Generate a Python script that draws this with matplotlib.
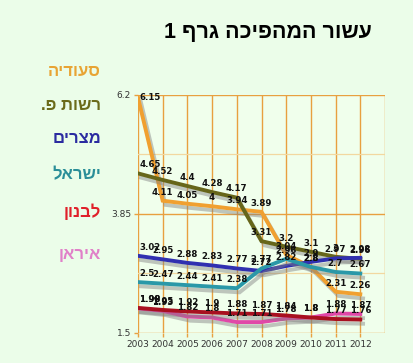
import matplotlib.pyplot as plt
import matplotlib.patheffects as pe

# data
years = [2003, 2004, 2005, 2006, 2007, 2008, 2009, 2010, 2011, 2012]
saudi = [6.15, 4.11, 4.05, 4.0, 3.94, 3.89, 3.04, 2.8, 2.31, 2.26]
pa = [4.65, 4.52, 4.4, 4.28, 4.17, 3.31, 3.2, 3.1, 3.0, 2.96]
egypt = [3.02, 2.95, 2.88, 2.83, 2.77, 2.72, 2.82, 2.9, 2.97, 2.98]
israel = [2.5, 2.47, 2.44, 2.41, 2.38, 2.77, 2.96, 2.8, 2.7, 2.67]
lebanon = [1.99, 1.95, 1.92, 1.9, 1.88, 1.87, 1.84, 1.8, 1.77, 1.76]
iran = [1.98, 1.93, 1.82, 1.8, 1.71, 1.71, 1.78, 1.8, 1.88, 1.87]

names = ["סעודיה", "רשות פ.", "מצרים", "ישראל", "לבנון", "איראן"]
title = "עשור המהפיכה גרף 1"
y_ticks = [1.5, 3.85, 6.2]

series = [saudi, pa, egypt, israel, iran, lebanon]
line_colors = ['#F0A030', '#66661A', '#3030B0', '#2A98A8', '#E048A8', '#A81020']
name_colors = ['#E8A434', '#6B6B1A', '#2B2BA0', '#2A8E98', '#E0202A', '#E080C8']
name_y = [71, 105, 138, 175, 212, 255]


def heb(s):
    # matplotlib has no bidi support, so flip for display
    return s[::-1]


bg = '#EBFDE9'
grid_c = '#E8A040'

fig = plt.figure(figsize=(4.14, 3.63), dpi=100, facecolor=bg)
ax = fig.add_axes([138 / 414, 1 - 332.7 / 363, 247 / 414, 237.7 / 363])
ax.set_facecolor('#F0FFEC')

ax.set_xlim(2003, 2013)
ax.set_ylim(1.5, 6.2)

for x in range(2003, 2014):
    ax.axvline(x, color=grid_c, lw=1.0, zorder=1)
for y in y_ticks:
    ax.axhline(y, color=grid_c, lw=1.0, zorder=1)
for y in [5.025, 2.675]:
    ax.axhline(y, color='#F2D8A0', lw=0.9, zorder=1)

for s in ax.spines.values():
    s.set_visible(False)

ax.set_xticks(years)
ax.set_xticklabels([str(y) for y in years], fontsize=6.5, color='#333333')
ax.set_yticks(y_ticks)
ax.set_yticklabels(['1.5', '3.85', '6.2'], fontsize=6.5, color='#333333')
ax.tick_params(axis='both', color=grid_c, length=3, width=1, pad=2)

shadow = [pe.SimpleLineShadow(offset=(2, -3), shadow_color='#808080', alpha=0.45),
          pe.Normal()]

for vals, c in zip(series, line_colors):
    ax.plot(years, vals, color=c, lw=2.8, solid_joinstyle='miter',
            path_effects=shadow, zorder=3)
    for x, v in zip(years, vals):
        ha = 'left' if x == 2003 else 'center'
        dy = 3
        va = 'bottom'
        if v > 6.0:
            # keep the top label inside the frame
            dy, va = 0, 'center'
        ax.annotate(f"{v:g}", (x, v), xytext=(1 if x == 2003 else 0, dy),
                    textcoords='offset points', ha=ha, va=va,
                    fontsize=6.2, fontweight='bold', color='#111111', zorder=5)

fig.text(372 / 414, 1 - 33 / 363, heb(title), ha='right', va='center',
         fontsize=15.5, fontweight='bold', family='Liberation Sans', color='black')

for n, c, yy in zip(names, name_colors, name_y):
    fig.text(101 / 414, 1 - yy / 363, heb(n), ha='right', va='center',
             fontsize=12, fontweight='bold', family='Liberation Sans', color=c)

fig.savefig('out.png', dpi=100, facecolor=bg)
